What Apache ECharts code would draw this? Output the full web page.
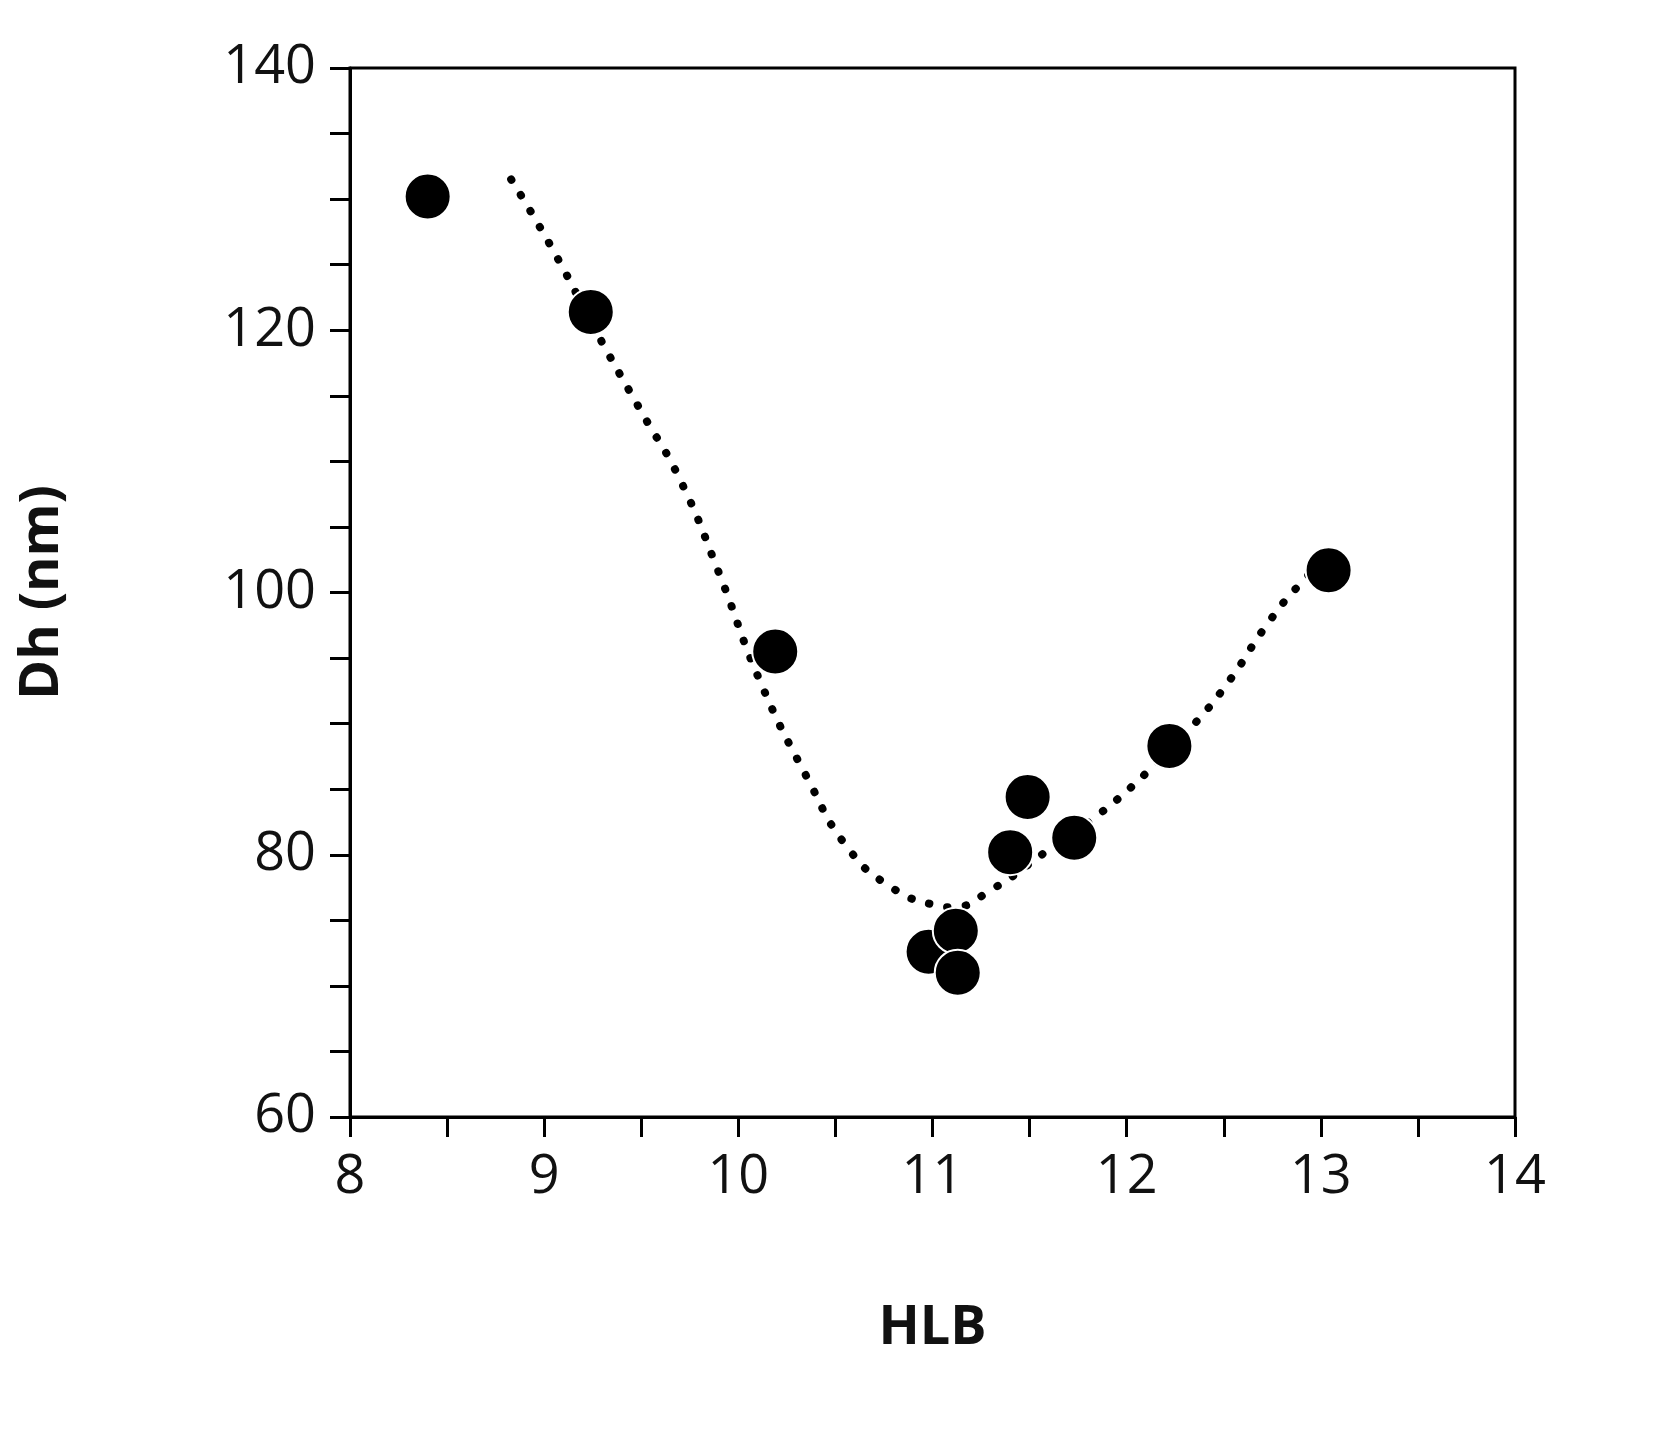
<!DOCTYPE html>
<html><head><meta charset="utf-8">
<script src="https://cdn.jsdelivr.net/npm/echarts@6/dist/echarts.min.js"></script>
<style>html,body{margin:0;padding:0;background:#fff}#c{width:1665px;height:1451px}</style>
</head><body><div id="c"></div>
<script>
const hlb = [8.40, 9.24, 10.19, 10.98, 11.12, 11.13, 11.40, 11.49, 11.73, 12.22, 13.04];
const dh = [130.2, 121.4, 95.5, 72.6, 74.2, 71.0, 80.2, 84.4, 81.3, 88.3, 101.7];
const fitX = [8.83, 9.05, 9.29, 9.50, 9.70, 9.90, 10.11, 10.35, 10.57, 10.80, 11.0, 11.1, 11.3, 11.6, 11.85, 12.12, 12.35, 12.53, 12.72, 12.89, 13.0, 13.1];
const fitY = [131.5, 126.0, 119.3, 113.8, 108.6, 101.5, 93.3, 86.0, 80.4, 77.4, 76.2, 76.0, 77.3, 80.4, 83.0, 86.5, 90.0, 93.3, 97.5, 100.6, 102.0, 102.5];
const chart = echarts.init(document.getElementById('c'));
const font = "'Open Sans', sans-serif";
chart.setOption({
  animation:false,
  grid:{left:350,right:150,top:68,bottom:334,show:true,borderColor:'#000',borderWidth:3,backgroundColor:'transparent'},
  xAxis:{type:'value',min:8,max:14,interval:0.5,name:'HLB',nameLocation:'middle',nameGap:185,
    nameTextStyle:{fontFamily:font,fontSize:54,fontWeight:'bold',color:'#111'},
    axisLine:{lineStyle:{color:'#000',width:3}},axisTick:{length:20,lineStyle:{width:3,color:'#000'}},
    splitLine:{show:false},
    axisLabel:{fontFamily:font,fontSize:54,color:'#111',margin:34,formatter:v=>Number.isInteger(v)?String(v):''}},
  yAxis:{type:'value',min:60,max:140,interval:5,name:'Dh (nm)',nameLocation:'middle',nameGap:280,
    nameTextStyle:{fontFamily:font,fontSize:54,fontWeight:'bold',color:'#111'},
    axisLine:{lineStyle:{color:'#000',width:3}},axisTick:{length:20,lineStyle:{width:3,color:'#000'}},
    splitLine:{show:false},
    axisLabel:{fontFamily:font,fontSize:54,color:'#111',margin:34,formatter:v=>v%20===0?String(v):''}},
  series:[
    {type:'line',data:fitX.map((x,i)=>[x,fitY[i]]),smooth:true,showSymbol:false,z:1,
      lineStyle:{color:'#000',width:8,type:[0.5,18],cap:'round',opacity:1}},
    {type:'scatter',data:hlb.map((x,i)=>[x,dh[i]]),symbolSize:46,z:2,
      itemStyle:{color:'#000',opacity:1,borderColor:'#fff',borderWidth:2}}
  ]
});
</script></body></html>
